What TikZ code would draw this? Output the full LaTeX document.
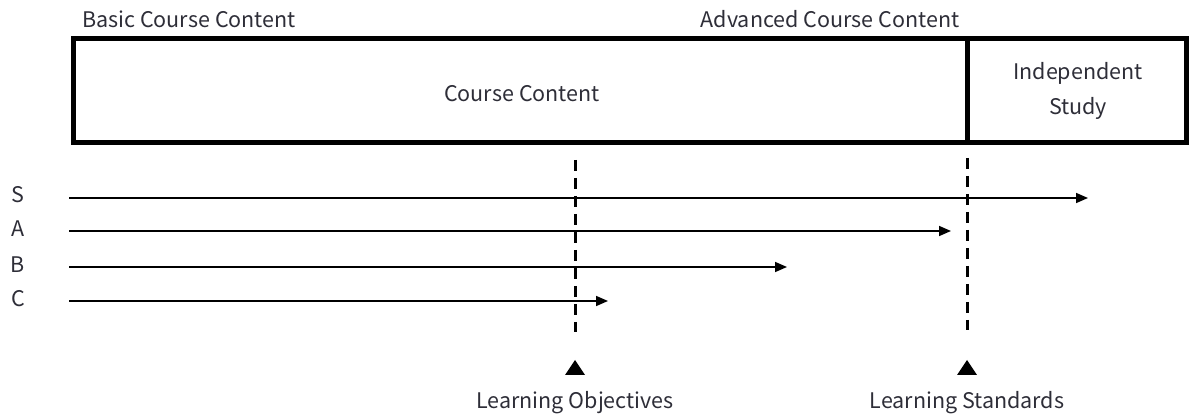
\documentclass[tikz,border=0pt]{standalone}
\usepackage{fontspec}
\setmainfont{Noto Sans CJK KR}
\usetikzlibrary{arrows.meta}
\definecolor{txt}{HTML}{2E2E38}
\tikzset{
  lbl/.style={text=txt, font=\fontsize{21.5}{25}\selectfont, inner sep=0pt, anchor=base},
  boxline/.style={line width=5pt},
  track/.style={line width=1.6pt, -{Triangle[length=12pt,width=10pt]}},
  mark line/.style={line width=3pt, dash pattern=on 11pt off 7pt},
  tri/.style={fill=black}
}
\begin{document}
\begin{tikzpicture}[x=1pt,y=-1pt]
\useasboundingbox (0,0) rectangle (1189,419);
% headings
\node[lbl] (basic) at (189,28) {Basic Course Content};
\node[lbl] (adv) at (830,28) {Advanced Course Content};
% main box
\draw[boxline] (73,38.5) rectangle (1186,143);
\draw[boxline] (967,38.5) -- (967,143);
\node[lbl] (cc) at (522,102) {Course Content};
\node[lbl] (ind) at (1078,80) {Independent};
\node[lbl] (stu) at (1078,115) {Study};
% learner labels
\node[lbl] (S) at (18,203) {S};
\node[lbl] (A) at (18,237) {A};
\node[lbl] (B) at (18,273) {B};
\node[lbl] (C) at (18,307) {C};
% tracks
\coordinate (s0) at (69,198); \coordinate (s1) at (1088,198);
\coordinate (a0) at (69,231); \coordinate (a1) at (951,231);
\coordinate (b0) at (69,267); \coordinate (b1) at (787,267);
\coordinate (c0) at (69,301); \coordinate (c1) at (608,301);
\draw[track] (s0) -- (s1);
\draw[track] (a0) -- (a1);
\draw[track] (b0) -- (b1);
\draw[track] (c0) -- (c1);
% milestone lines
\coordinate (o0) at (575,160); \coordinate (o1) at (575,332);
\coordinate (t0) at (967,158); \coordinate (t1) at (967,330);
\draw[mark line] (o0) -- (o1);
\draw[mark line] (t0) -- (t1);
% triangles
\fill[tri] (565,375) -- (585,375) -- (575,360) -- cycle;
\fill[tri] (957,375) -- (977,375) -- (967,360) -- cycle;
\node[lbl] (lo) at (575,409) {Learning Objectives};
\node[lbl] (ls) at (967,409) {Learning Standards};
\end{tikzpicture}
\end{document}
